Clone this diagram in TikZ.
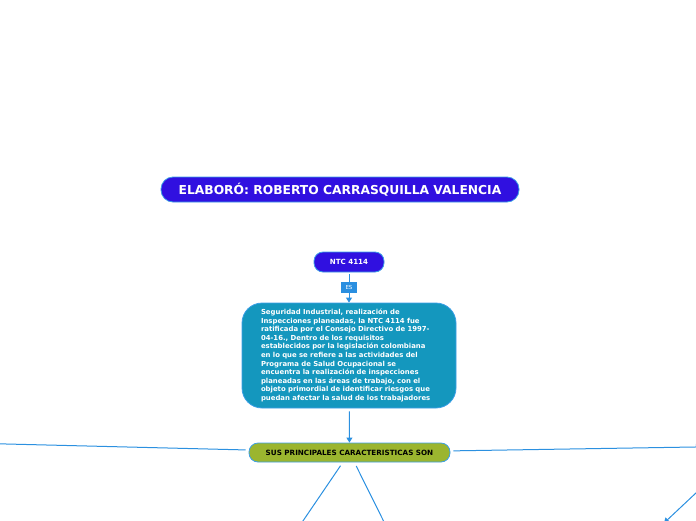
\documentclass[tikz,border=0pt]{standalone}
\usepackage{fontspec}
\setmainfont{DejaVu Sans}
\usetikzlibrary{arrows.meta}
\definecolor{purp}{HTML}{3010E0}
\definecolor{edgeb}{HTML}{3C9FE6}
\definecolor{teal}{HTML}{1497BE}
\definecolor{olive}{HTML}{9BB52F}
\definecolor{esb}{HTML}{2A8FE0}
\definecolor{lineb}{HTML}{2B90E0}
\tikzset{
  pill/.style={draw=edgeb, line width=0.8pt, rounded corners=9pt, inner sep=0pt, font=\bfseries},
  conn/.style={draw=lineb, line width=1pt},
  tip/.style={-{Triangle[length=5pt,width=6pt]}},
}
\begin{document}
\begin{tikzpicture}[x=1pt,y=-1pt]
\useasboundingbox (0,0) rectangle (696,520);
\clip (0,0) rectangle (696,520);
\node[pill, fill=purp, text=white, minimum width=358pt, minimum height=25pt, rounded corners=12pt, font=\bfseries\fontsize{12.3}{14}\selectfont] (title) at (340,189.5) {ELABORÓ: ROBERTO CARRASQUILLA VALENCIA};
\node[pill, fill=purp, text=white, minimum width=70pt, minimum height=20pt, font=\bfseries\fontsize{7.1}{8}\selectfont] (ntc) at (349,262) {NTC 4114};
\node[draw=edgeb, line width=0.8pt, fill=teal, text=white, rounded corners=20pt, minimum width=214pt, minimum height=105pt, text width=176pt, align=left, inner sep=0pt, font=\bfseries\fontsize{6.9}{8.6}\selectfont] (big) at (349,355.5) {Seguridad Industrial, realización de\\
Inspecciones planeadas, la NTC 4114 fue\\
ratificada por el Consejo Directivo de 1997-\\
04-16., Dentro de los requisitos\\
establecidos por la legislación colombiana\\
en lo que se refiere a las actividades del\\
Programa de Salud Ocupacional se\\
encuentra la realización de inspecciones\\
planeadas en las áreas de trabajo, con el\\
objeto primordial de identificar riesgos que\\
puedan afectar la salud de los trabajadores};
\node[pill, fill=olive, text=black, minimum width=201pt, minimum height=19pt, font=\bfseries\fontsize{7.2}{8}\selectfont] (sus) at (349.5,452.5) {SUS PRINCIPALES CARACTERISTICAS SON};
\coordinate (offl) at (-50,442.6);
\coordinate (offr) at (701,446.9);
\coordinate (offbl) at (290,540);
\coordinate (offbr) at (393,540);
\coordinate (offa) at (730,461);
\coordinate (offb) at (664,523);
\draw[conn, tip, shorten <=2pt] (ntc) -- node[fill=esb, text=white, inner sep=1.5pt, minimum width=16pt, minimum height=11pt, font=\fontsize{5.5}{6}\selectfont] (es) {ES} (big);
\draw[conn, tip, shorten <=3pt] (big) -- (sus);
\draw[conn, shorten <=3pt] (sus) -- (offl);
\draw[conn, tip, shorten <=3pt] (sus) -- (offr);
\draw[conn, shorten <=4pt] (sus) -- (offbl);
\draw[conn, shorten <=4pt] (sus) -- (offbr);
\draw[conn, tip] (offa) -- (offb);
\end{tikzpicture}
\end{document}
